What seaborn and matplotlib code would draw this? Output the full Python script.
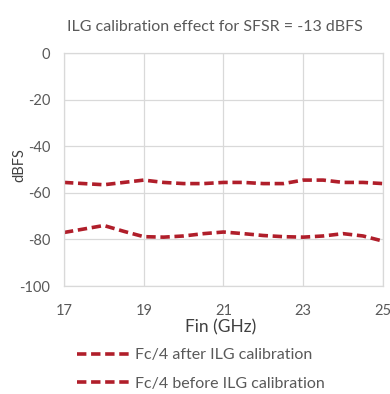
import matplotlib
matplotlib.use("Agg")
import matplotlib.pyplot as plt
import seaborn as sns
import pandas as pd

fin = [17, 17.5, 18, 18.5, 19, 19.5, 20, 20.5, 21, 21.5, 22, 22.5, 23, 23.5, 24, 24.5, 25]
after_cal = [-55.5, -56, -56.5, -55.5, -54.5, -55.5, -56, -56, -55.5, -55.5, -56, -56, -54.5, -54.5, -55.5, -55.5, -56]
before_cal = [-77, -75.5, -74, -76.5, -78.8, -79, -78.5, -77.5, -76.8, -77.5, -78.3, -78.8, -79, -78.5, -77.5, -78.5, -80.7]
series_names = ["Fc/4 after ILG calibration", "Fc/4 before ILG calibration"]
title = "ILG calibration effect for SFSR = -13 dBFS"
xticks = [17, 19, 21, 23, 25]
yticks = [0, -20, -40, -60, -80, -100]

df = pd.DataFrame({
    "Fin": fin * 2,
    "dBFS": after_cal + before_cal,
    "series": [series_names[0]] * len(fin) + [series_names[1]] * len(fin),
})

sns.set_theme(style="white")
plt.rcParams['font.family'] = ['Lato', 'DejaVu Sans']
plt.rcParams['axes.unicode_minus'] = False

fig = plt.figure(figsize=(3.9, 3.94), dpi=100)
ax = fig.add_axes([0.164, 0.274, 0.818, 0.591])

red = "#B01E2A"
sns.lineplot(data=df, x="Fin", y="dBFS", hue="series", style="series",
             palette=[red, red], dashes=[(2.6, 1.3), (2.6, 1.3)],
             linewidth=2.6, ax=ax, legend=True)

ax.set_xlim(17, 25)
ax.set_ylim(-100, 0)
ax.set_xticks(xticks)
ax.set_yticks(yticks)
ax.grid(True, color="#D9D9D9", linewidth=0.9)
for s in ax.spines.values():
    s.set_color("#D9D9D9")
    s.set_linewidth(0.9)
ax.tick_params(axis="x", colors="#595959", labelsize=10.5, length=0, pad=13)
ax.tick_params(axis="y", colors="#595959", labelsize=10.5, length=0, pad=10)
ax.set_xlabel("Fin (GHz)", color="#404040", fontsize=12.5, labelpad=1)
ax.set_ylabel("dBFS", color="#404040", fontsize=10.5, labelpad=-5)
ax.yaxis.label.set_y(0.52)
ax.xaxis.label.set_x(0.49)
ax.set_title(title, color="#595959", fontsize=11.5, pad=16, x=0.473)

handles, labels = ax.get_legend_handles_labels()
ax.legend_.remove()
leg = fig.legend(handles, labels, loc="upper center", bbox_to_anchor=(0.515, 0.153),
                 frameon=False, fontsize=11.5, handlelength=3.4, labelspacing=0.9,
                 handletextpad=0.25)
for t in leg.get_texts():
    t.set_color("#595959")

fig.savefig("out.png", dpi=100)
